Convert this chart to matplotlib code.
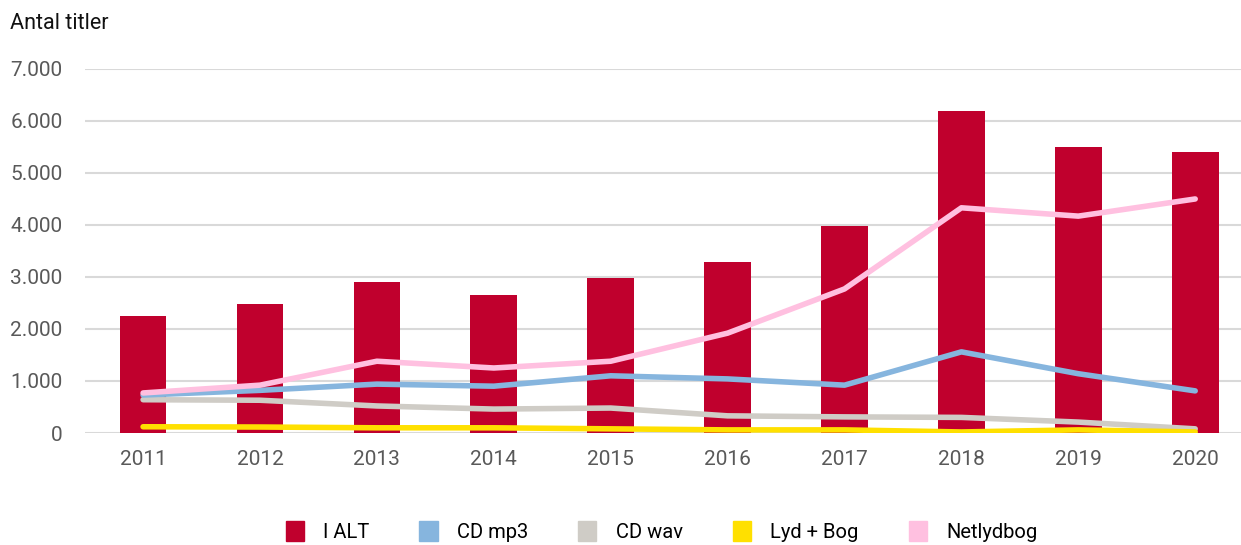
import numpy as np
import matplotlib.pyplot as plt
from matplotlib.patches import Patch
from matplotlib.ticker import FuncFormatter

years = ['2011', '2012', '2013', '2014', '2015', '2016', '2017', '2018', '2019', '2020']
i_alt = [2250, 2480, 2900, 2650, 2980, 3290, 3980, 6190, 5500, 5400]
cd_mp3 = [730, 820, 940, 900, 1100, 1040, 920, 1560, 1140, 810]
cd_wav = [640, 630, 520, 460, 480, 330, 310, 300, 210, 80]
lyd_bog = [120, 115, 100, 100, 80, 60, 60, 20, 60, 20]
netlydbog = [770, 920, 1380, 1250, 1380, 1920, 2770, 4330, 4170, 4500]

c_alt = '#C0002D'
c_mp3 = '#86B5DE'
c_wav = '#CFCCC6'
c_lyd = '#FFE000'
c_net = '#FFC0E0'

plt.rcParams['font.family'] = ['Roboto', 'DejaVu Sans']

fig = plt.figure(figsize=(12.41, 5.45), dpi=100)
ax = fig.add_axes([0.0682, 0.2055, 0.942, 0.668])

x = np.arange(len(years))
ax.bar(x, i_alt, width=0.40, color=c_alt, zorder=2)
lw = 4.0
ax.plot(x, cd_wav, color=c_wav, lw=lw, solid_capstyle='round', zorder=3)
ax.plot(x, lyd_bog, color=c_lyd, lw=lw, solid_capstyle='round', zorder=3)
ax.plot(x, cd_mp3, color=c_mp3, lw=lw, solid_capstyle='round', zorder=4)
ax.plot(x, netlydbog, color=c_net, lw=lw, solid_capstyle='round', zorder=5)

ax.set_xlim(-0.5, len(years) - 0.5)
ax.set_ylim(0, 7000)
ax.set_yticks(range(0, 7001, 1000))
ax.yaxis.set_major_formatter(FuncFormatter(lambda v, p: f'{int(v):,}'.replace(',', '.')))
ax.set_xticks(x)
ax.set_xticklabels(years)
ax.grid(axis='y', color='#D9D9D9', lw=1.5, zorder=0)
for s in ax.spines.values():
    s.set_visible(False)
ax.tick_params(axis='both', length=0, labelsize=15, colors='#595959', pad=12)
ax.tick_params(axis='y', pad=16)

fig.text(0.008, 0.957, 'Antal titler', fontsize=15.5, color='#111111', va='center')

handles = [Patch(color=c_alt, label='I ALT'),
           Patch(color=c_mp3, label='CD mp3'),
           Patch(color=c_wav, label='CD wav'),
           Patch(color=c_lyd, label='Lyd + Bog'),
           Patch(color=c_net, label='Netlydbog')]
fig.legend(handles=handles, loc='center', bbox_to_anchor=(0.533, 0.025), ncol=5,
           frameon=False, fontsize=14.5, handlelength=0.9, handleheight=1.2,
           handletextpad=0.95, columnspacing=2.5)

fig.savefig('out.png', dpi=100)
